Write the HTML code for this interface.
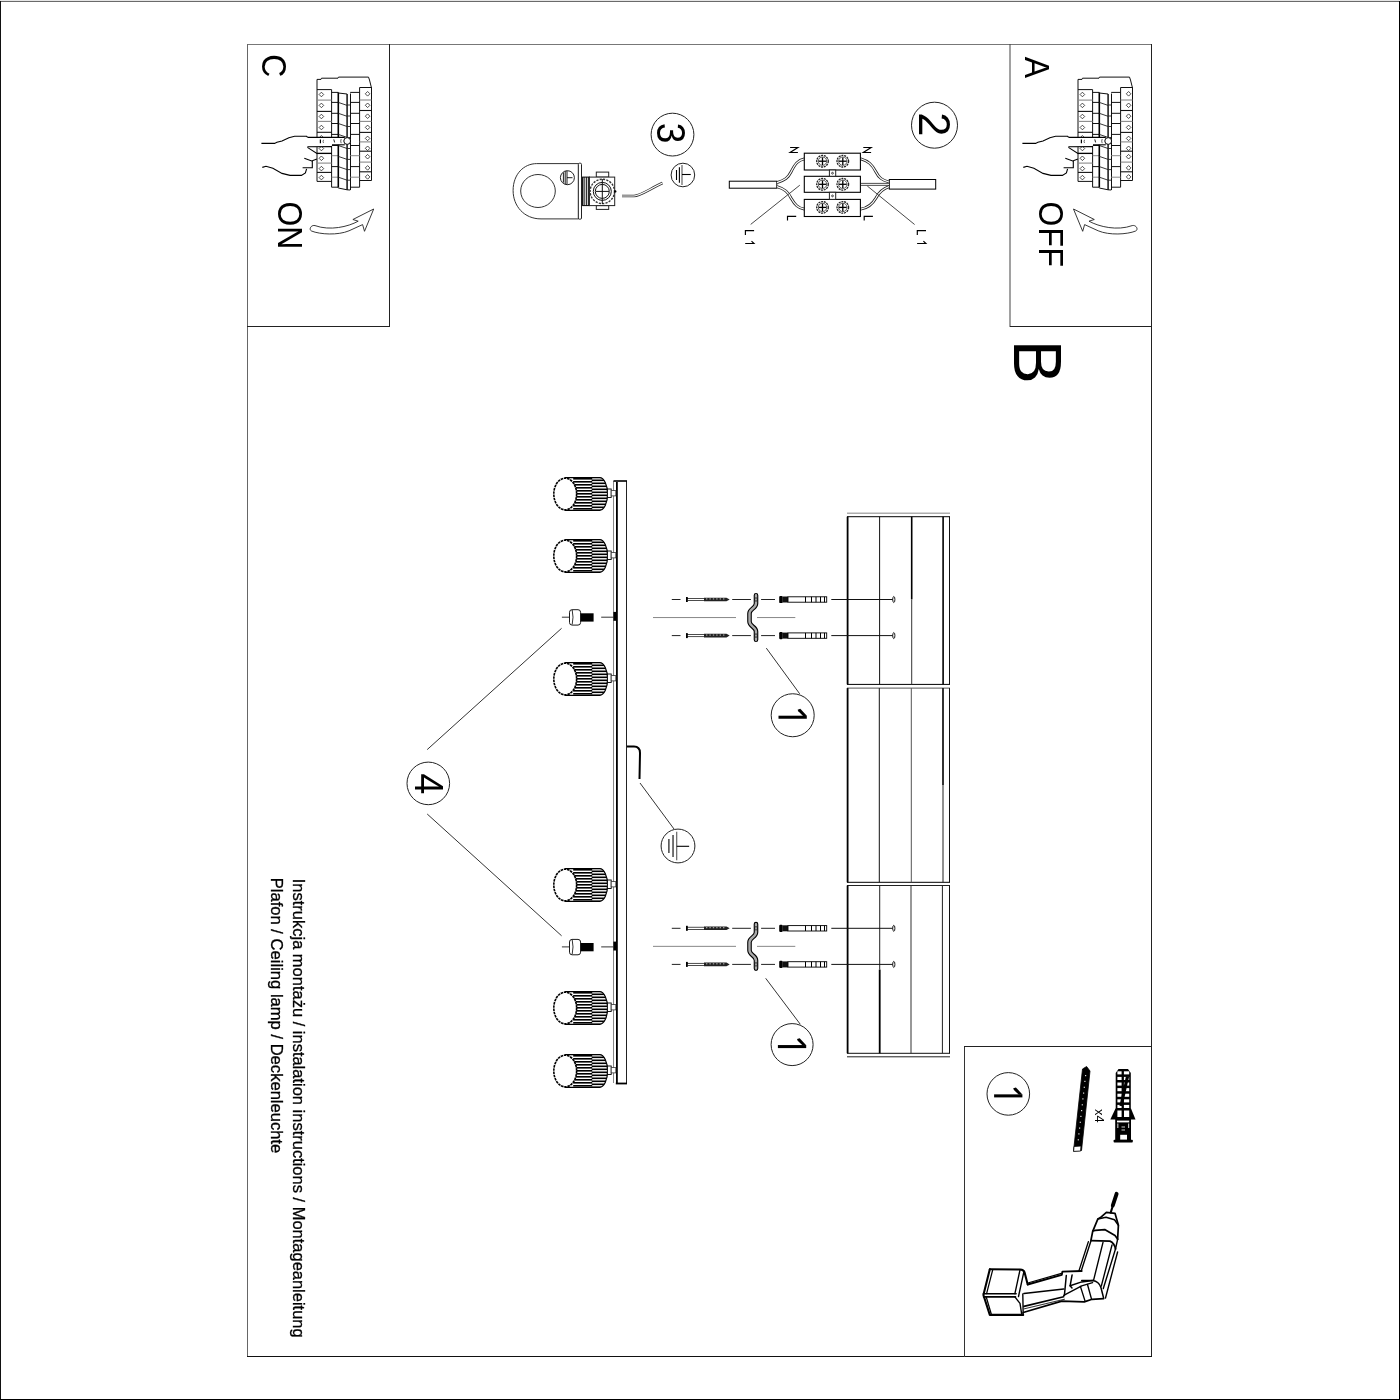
<!DOCTYPE html>
<html><head><meta charset="utf-8"><style>
html,body{margin:0;padding:0;background:#fff;overflow:hidden;}
svg{display:block;filter:grayscale(100%);}
text{font-family:"Liberation Sans",sans-serif;font-kerning:none;}
</style></head><body>
<svg width="1400" height="1400" viewBox="0 0 1400 1400">
<rect width="1400" height="1400" fill="#fff"/>
<rect x="0" y="0" width="1400" height="1" fill="#e6e6e6"/>
<rect x="0" y="1" width="1400" height="1" fill="#6a6a6a"/>
<rect x="0" y="1" width="1" height="1399" fill="#111"/>
<rect x="1399" y="1" width="1" height="1399" fill="#000"/>
<rect x="0" y="1399" width="1400" height="1" fill="#000"/>
<rect x="247" y="44" width="905" height="1" fill="#777"/>
<rect x="247" y="44" width="1" height="1313" fill="#666"/>
<rect x="1151" y="44" width="1" height="1313" fill="#222"/>
<rect x="247" y="1356" width="905" height="1" fill="#111"/>
<rect x="389" y="44" width="1" height="283" fill="#222"/>
<rect x="247" y="326" width="143" height="1" fill="#222"/>
<rect x="1009.5" y="44" width="1" height="283" fill="#444"/>
<rect x="1010" y="326" width="142" height="1" fill="#222"/>
<rect x="964" y="1046" width="1" height="311" fill="#333"/>
<rect x="964" y="1046" width="188" height="1" fill="#222"/>
<text transform="translate(261.95,54.27) rotate(90) scale(0.92,1)" font-size="34.7" fill="#000" font-weight="normal" >C</text>
<text transform="translate(278.10,201.39) rotate(90) scale(0.92,1)" font-size="34.7" fill="#000" font-weight="normal" >ON</text>
<text transform="translate(1025.06,56.65) rotate(90) scale(0.92,1)" font-size="34.7" fill="#000" font-weight="normal" >A</text>
<text transform="translate(1038.60,201.49) rotate(90) scale(0.92,1)" font-size="34.7" fill="#000" font-weight="normal" >O</text>
<text transform="translate(1038.60,227.48) rotate(90) scale(0.92,1)" font-size="34.7" fill="#000" font-weight="normal" >F</text>
<text transform="translate(1038.60,247.48) rotate(90) scale(0.92,1)" font-size="34.7" fill="#000" font-weight="normal" >F</text>
<text transform="translate(1014.04,339.67) rotate(90) scale(0.97,1)" font-size="68.2" fill="#000" font-weight="normal" >B</text>
<text transform="translate(293.20,878.78) rotate(90) scale(1.005,1)" font-size="16.4" fill="#000" font-weight="normal" stroke="#000" stroke-width="0.3">Instrukcja montażu / instalation instructions / Montageanleitung</text>
<text transform="translate(271.20,877.74) rotate(90) scale(1.012,1)" font-size="16.4" fill="#000" font-weight="normal" stroke="#000" stroke-width="0.3">Plafon / Ceiling lamp / Deckenleuchte</text>
<circle cx="672.5" cy="134.6" r="21.4" stroke="#222" stroke-width="1" fill="none" />
<text transform="translate(657.39,122.81) rotate(90) scale(0.91,1)" font-size="40.7" fill="#000" font-weight="normal" >3</text>
<circle cx="934.5" cy="125.2" r="23.0" stroke="#222" stroke-width="1" fill="none" />
<text transform="translate(919.41,112.20) rotate(90) scale(1.0,1)" font-size="43.5" fill="#000" font-weight="normal" >2</text>
<circle cx="792.7" cy="715.25" r="21.5" stroke="#222" stroke-width="1" fill="none" />
<path d="M778.50,715.70 L806.80,715.70 L806.80,718.75 L778.50,718.75 Z" fill="#000"/>
<path d="M806.80,715.85 L800.30,708.85 L797.60,709.65 L798.30,711.35 L803.30,716.15 Z" fill="#000"/>
<circle cx="792.1" cy="1044.6" r="21.0" stroke="#222" stroke-width="1" fill="none" />
<path d="M777.90,1045.05 L806.20,1045.05 L806.20,1048.10 L777.90,1048.10 Z" fill="#000"/>
<path d="M806.20,1045.20 L799.70,1038.20 L797.00,1039.00 L797.70,1040.70 L802.70,1045.50 Z" fill="#000"/>
<circle cx="428.3" cy="783.4" r="21.3" stroke="#222" stroke-width="1" fill="none" />
<text transform="translate(414.60,773.51) rotate(90) scale(0.92,1)" font-size="40.7" fill="#000" font-weight="normal" >4</text>
<circle cx="1008.3" cy="1093.9" r="21.3" stroke="#222" stroke-width="1" fill="none" />
<path d="M994.10,1094.35 L1022.40,1094.35 L1022.40,1097.40 L994.10,1097.40 Z" fill="#000"/>
<path d="M1022.40,1094.50 L1015.90,1087.50 L1013.20,1088.30 L1013.90,1090.00 L1018.90,1094.80 Z" fill="#000"/>
<circle cx="682.9" cy="175.0" r="11.8" stroke="#222" stroke-width="1" fill="none" />
<line x1="676.5" y1="170.0" x2="676.5" y2="180.0" stroke="#000" stroke-width="1.1" />
<line x1="679.4" y1="167.25" x2="679.4" y2="182.75" stroke="#000" stroke-width="1.1" />
<line x1="682.0" y1="165.0" x2="682.0" y2="185.0" stroke="#555" stroke-width="1.1" />
<line x1="682.0" y1="174.5" x2="690.75" y2="174.5" stroke="#000" stroke-width="1.1" />
<circle cx="678.0" cy="846.0" r="16.9" stroke="#222" stroke-width="1" fill="none" />
<line x1="668.912" y1="838.9" x2="668.912" y2="853.1" stroke="#000" stroke-width="1.1" />
<line x1="673.03" y1="834.995" x2="673.03" y2="857.005" stroke="#000" stroke-width="1.1" />
<line x1="676.722" y1="831.8" x2="676.722" y2="860.2" stroke="#555" stroke-width="1.1" />
<line x1="676.722" y1="846.3" x2="689.147" y2="846.3" stroke="#000" stroke-width="1.1" />
<line x1="427.2" y1="749.6" x2="561.6" y2="628.3" stroke="#333" stroke-width="1" />
<line x1="427.2" y1="814.0" x2="561.6" y2="935.8" stroke="#333" stroke-width="1" />
<line x1="766.3" y1="648.1" x2="799.7" y2="693.8" stroke="#333" stroke-width="1" />
<line x1="765.7" y1="978.3" x2="800.3" y2="1024.3" stroke="#333" stroke-width="1" />
<line x1="640.0" y1="783.0" x2="674.0" y2="829.0" stroke="#333" stroke-width="1" />
<defs>
<clipPath id="spclip"><path d="M0,-16.4 L34.4,-16.4 A8,16.4 0 0 1 34.4,16.4 L0,16.4 Z"/></clipPath>
<g id="spot"><path d="M0,-16.4 L34.4,-16.4 A8,16.4 0 0 1 34.4,16.4 L0,16.4 Z" fill="#fff" stroke="#000" stroke-width="1.2"/><g clip-path="url(#spclip)"><rect x="8" y="-19.00" width="19" height="1.6" fill="#000"/><rect x="26.5" y="-17.50" width="17" height="1.6" fill="#000"/><rect x="8" y="-16.00" width="19" height="1.6" fill="#000"/><rect x="26.5" y="-14.50" width="17" height="1.6" fill="#000"/><rect x="8" y="-13.00" width="19" height="1.6" fill="#000"/><rect x="26.5" y="-11.50" width="17" height="1.6" fill="#000"/><rect x="8" y="-10.00" width="19" height="1.6" fill="#000"/><rect x="26.5" y="-8.50" width="17" height="1.6" fill="#000"/><rect x="8" y="-7.00" width="19" height="1.6" fill="#000"/><rect x="26.5" y="-5.50" width="17" height="1.6" fill="#000"/><rect x="8" y="-4.00" width="19" height="1.6" fill="#000"/><rect x="26.5" y="-2.50" width="17" height="1.6" fill="#000"/><rect x="8" y="-1.00" width="19" height="1.6" fill="#000"/><rect x="26.5" y="0.50" width="17" height="1.6" fill="#000"/><rect x="8" y="2.00" width="19" height="1.6" fill="#000"/><rect x="26.5" y="3.50" width="17" height="1.6" fill="#000"/><rect x="8" y="5.00" width="19" height="1.6" fill="#000"/><rect x="26.5" y="6.50" width="17" height="1.6" fill="#000"/><rect x="8" y="8.00" width="19" height="1.6" fill="#000"/><rect x="26.5" y="9.50" width="17" height="1.6" fill="#000"/><rect x="8" y="11.00" width="19" height="1.6" fill="#000"/><rect x="26.5" y="12.50" width="17" height="1.6" fill="#000"/><rect x="8" y="14.00" width="19" height="1.6" fill="#000"/><rect x="26.5" y="15.50" width="17" height="1.6" fill="#000"/><rect x="8" y="17.00" width="19" height="1.6" fill="#000"/><rect x="26.5" y="18.50" width="17" height="1.6" fill="#000"/></g><ellipse cx="0" cy="0" rx="11.4" ry="15.8" fill="#fff" stroke="#000" stroke-width="1.6" stroke-dasharray="2.6 0.7"/><rect x="42.2" y="-5" width="3.8" height="8.5" fill="#fff" stroke="#000" stroke-width="0.9"/><rect x="46" y="-3.4" width="4.6" height="5.3" fill="#fff" stroke="#333" stroke-width="0.8"/></g>
<g id="bscrew"><line x1="-51.5" y1="0" x2="-44" y2="0" stroke="#333" stroke-width="1"/><line x1="-12.2" y1="0" x2="0" y2="0" stroke="#333" stroke-width="1"/><rect x="-43.9" y="-7.5" width="11.1" height="15.4" rx="2.6" fill="#fff" stroke="#000" stroke-width="0.9"/><path d="M-41.2,-7.3 Q-39.6,0 -41.2,7.3" fill="none" stroke="#000" stroke-width="0.8"/><rect x="-32.8" y="-3.9" width="13" height="8.3" fill="#000"/><rect x="0" y="-5.3" width="3.6" height="8.9" fill="#000"/></g>
</defs>
<rect x="613" y="481" width="1" height="602" fill="#888"/>
<rect x="616" y="482" width="1.8" height="601" fill="#000"/>
<rect x="626" y="481" width="1" height="603" fill="#222"/>
<rect x="613.5" y="480.2" width="13.5" height="1.6" fill="#000"/>
<rect x="615.8" y="1082.6" width="11.2" height="1.8" fill="#000"/>
<use href="#spot" x="565.2" y="494"/>
<use href="#spot" x="565.2" y="556"/>
<use href="#spot" x="565.2" y="679"/>
<use href="#spot" x="565.2" y="885"/>
<use href="#spot" x="565.2" y="1008"/>
<use href="#spot" x="565.2" y="1071"/>
<use href="#bscrew" x="613.4" y="617.2"/>
<use href="#bscrew" x="613.4" y="946.9"/>
<path d="M627,746.5 L634,746.5 Q640,746.5 640,753 L639.5,779" stroke="#000" stroke-width="2" fill="none" />
<rect x="847" y="512.6" width="103" height="1.2" fill="#999"/>
<rect x="847.0" y="516.2" width="103.0" height="1" fill="#000"/>
<rect x="847.0" y="683.9" width="103.0" height="1" fill="#000"/>
<rect x="846.7" y="516.7" width="1.8" height="167.69999999999993" fill="#000"/>
<rect x="949.0" y="516.7" width="1" height="167.69999999999993" fill="#111"/>
<rect x="847.0" y="687.6" width="103.0" height="1" fill="#555"/>
<rect x="847.0" y="881.8" width="103.0" height="1" fill="#000"/>
<rect x="846.7" y="688.1" width="1.8" height="194.19999999999993" fill="#000"/>
<rect x="949.0" y="688.1" width="1" height="194.19999999999993" fill="#111"/>
<rect x="847.0" y="885.0" width="103.0" height="1" fill="#222"/>
<rect x="847.0" y="1052.8" width="103.0" height="1" fill="#111"/>
<rect x="846.7" y="885.5" width="1.8" height="167.79999999999995" fill="#000"/>
<rect x="949.0" y="885.5" width="1" height="167.79999999999995" fill="#111"/>
<rect x="847" y="1056.3" width="103" height="1" fill="#222"/>
<rect x="879.10" y="516.7" width="1" height="167.70" fill="#111"/>
<rect x="910.90" y="516.7" width="1.6" height="82.60" fill="#000"/>
<rect x="911.20" y="599.3" width="1" height="85.10" fill="#333"/>
<rect x="942.30" y="516.7" width="1.6" height="167.70" fill="#000"/>
<rect x="878.80" y="688.1" width="1" height="194.20" fill="#111"/>
<rect x="910.80" y="688.1" width="1" height="194.20" fill="#555"/>
<rect x="942.20" y="688.1" width="1.6" height="96.90" fill="#000"/>
<rect x="942.50" y="785" width="1" height="97.30" fill="#222"/>
<rect x="879.20" y="885.5" width="1" height="84.10" fill="#222"/>
<rect x="878.80" y="969.6" width="1.8" height="83.70" fill="#000"/>
<rect x="910.50" y="885.5" width="1" height="167.80" fill="#333"/>
<rect x="941.90" y="885.5" width="1" height="167.80" fill="#222"/>
<line x1="671.8" y1="599.5" x2="680.5" y2="599.5" stroke="#222" stroke-width="1" />
<rect x="686" y="597.0" width="1.8" height="5" fill="#000"/>
<rect x="687.5" y="598.4" width="17" height="2.2" fill="#fff" stroke="#000" stroke-width="0.7"/>
<path d="M704,597.7 L726.5,597.7 L729.7,599.5 L726.5,601.3 L704,601.3 Z" fill="#222"/>
<rect x="706.0" y="598.5" width="1.4" height="0.9" fill="#ccc"/>
<rect x="709.4" y="598.5" width="1.4" height="0.9" fill="#ccc"/>
<rect x="712.8" y="598.5" width="1.4" height="0.9" fill="#ccc"/>
<rect x="716.2" y="598.5" width="1.4" height="0.9" fill="#ccc"/>
<rect x="719.6" y="598.5" width="1.4" height="0.9" fill="#ccc"/>
<rect x="723.0" y="598.5" width="1.4" height="0.9" fill="#ccc"/>
<line x1="732.2" y1="599.5" x2="750.9" y2="599.5" stroke="#222" stroke-width="1" />
<line x1="761.1" y1="599.5" x2="775.0" y2="599.5" stroke="#222" stroke-width="1" />
<rect x="779.2" y="595.9" width="3.5" height="7.2" rx="1.2" fill="#000"/>
<rect x="782.5" y="596.5" width="5.5" height="6.0" fill="#111"/>
<rect x="788" y="596.8" width="38.7" height="5.4" fill="#fff" stroke="#000" stroke-width="0.9"/>
<rect x="805" y="596.8" width="1" height="5.4" fill="#000"/>
<rect x="811" y="596.8" width="1" height="5.4" fill="#000"/>
<rect x="815.5" y="596.8" width="1" height="5.4" fill="#000"/>
<rect x="820" y="596.8" width="1" height="5.4" fill="#000"/>
<rect x="824" y="596.8" width="1" height="5.4" fill="#000"/>
<line x1="831.3" y1="599.5" x2="893.6" y2="599.5" stroke="#111" stroke-width="1" />
<ellipse cx="893.8" cy="599.5" rx="1.1" ry="3" fill="#fff" stroke="#000" stroke-width="0.9"/>
<line x1="671.8" y1="635.6" x2="680.5" y2="635.6" stroke="#222" stroke-width="1" />
<rect x="686" y="633.1" width="1.8" height="5" fill="#000"/>
<rect x="687.5" y="634.5" width="17" height="2.2" fill="#fff" stroke="#000" stroke-width="0.7"/>
<path d="M704,633.8000000000001 L726.5,633.8000000000001 L729.7,635.6 L726.5,637.4 L704,637.4 Z" fill="#222"/>
<rect x="706.0" y="634.6" width="1.4" height="0.9" fill="#ccc"/>
<rect x="709.4" y="634.6" width="1.4" height="0.9" fill="#ccc"/>
<rect x="712.8" y="634.6" width="1.4" height="0.9" fill="#ccc"/>
<rect x="716.2" y="634.6" width="1.4" height="0.9" fill="#ccc"/>
<rect x="719.6" y="634.6" width="1.4" height="0.9" fill="#ccc"/>
<rect x="723.0" y="634.6" width="1.4" height="0.9" fill="#ccc"/>
<line x1="732.2" y1="635.6" x2="750.9" y2="635.6" stroke="#222" stroke-width="1" />
<line x1="761.1" y1="635.6" x2="775.0" y2="635.6" stroke="#222" stroke-width="1" />
<rect x="779.2" y="632.0" width="3.5" height="7.2" rx="1.2" fill="#000"/>
<rect x="782.5" y="632.6" width="5.5" height="6.0" fill="#111"/>
<rect x="788" y="632.9" width="38.7" height="5.4" fill="#fff" stroke="#000" stroke-width="0.9"/>
<rect x="805" y="632.9" width="1" height="5.4" fill="#000"/>
<rect x="811" y="632.9" width="1" height="5.4" fill="#000"/>
<rect x="815.5" y="632.9" width="1" height="5.4" fill="#000"/>
<rect x="820" y="632.9" width="1" height="5.4" fill="#000"/>
<rect x="824" y="632.9" width="1" height="5.4" fill="#000"/>
<line x1="831.3" y1="635.6" x2="893.6" y2="635.6" stroke="#111" stroke-width="1" />
<ellipse cx="893.8" cy="635.6" rx="1.1" ry="3" fill="#fff" stroke="#000" stroke-width="0.9"/>
<path d="M756,595.3 L756,603.5 C756,608.5 749.5,608.5 749.5,613.55 L749.5,621.55 C749.5,626.6 756,626.6 756,631.6 L756,639.8000000000001" stroke="#000" stroke-width="4.6" fill="none" stroke-linecap="round"/>
<path d="M756,595.3 L756,603.5 C756,608.5 749.5,608.5 749.5,613.55 L749.5,621.55 C749.5,626.6 756,626.6 756,631.6 L756,639.8000000000001" stroke="#aaa" stroke-width="2.4" fill="none" stroke-linecap="round"/>
<ellipse cx="756" cy="599.5" rx="0.9" ry="2.2" fill="#fff" stroke="#000" stroke-width="0.7"/>
<ellipse cx="756" cy="635.6" rx="0.9" ry="2.2" fill="#fff" stroke="#000" stroke-width="0.7"/>
<rect x="653" y="617.05" width="83" height="1" fill="#888"/>
<rect x="757" y="617.05" width="38.3" height="1" fill="#888"/>
<line x1="671.8" y1="928.3" x2="680.5" y2="928.3" stroke="#222" stroke-width="1" />
<rect x="686" y="925.8" width="1.8" height="5" fill="#000"/>
<rect x="687.5" y="927.1999999999999" width="17" height="2.2" fill="#fff" stroke="#000" stroke-width="0.7"/>
<path d="M704,926.5 L726.5,926.5 L729.7,928.3 L726.5,930.0999999999999 L704,930.0999999999999 Z" fill="#222"/>
<rect x="706.0" y="927.3" width="1.4" height="0.9" fill="#ccc"/>
<rect x="709.4" y="927.3" width="1.4" height="0.9" fill="#ccc"/>
<rect x="712.8" y="927.3" width="1.4" height="0.9" fill="#ccc"/>
<rect x="716.2" y="927.3" width="1.4" height="0.9" fill="#ccc"/>
<rect x="719.6" y="927.3" width="1.4" height="0.9" fill="#ccc"/>
<rect x="723.0" y="927.3" width="1.4" height="0.9" fill="#ccc"/>
<line x1="732.2" y1="928.3" x2="750.9" y2="928.3" stroke="#222" stroke-width="1" />
<line x1="761.1" y1="928.3" x2="775.0" y2="928.3" stroke="#222" stroke-width="1" />
<rect x="779.2" y="924.6999999999999" width="3.5" height="7.2" rx="1.2" fill="#000"/>
<rect x="782.5" y="925.3" width="5.5" height="6.0" fill="#111"/>
<rect x="788" y="925.5999999999999" width="38.7" height="5.4" fill="#fff" stroke="#000" stroke-width="0.9"/>
<rect x="805" y="925.5999999999999" width="1" height="5.4" fill="#000"/>
<rect x="811" y="925.5999999999999" width="1" height="5.4" fill="#000"/>
<rect x="815.5" y="925.5999999999999" width="1" height="5.4" fill="#000"/>
<rect x="820" y="925.5999999999999" width="1" height="5.4" fill="#000"/>
<rect x="824" y="925.5999999999999" width="1" height="5.4" fill="#000"/>
<line x1="831.3" y1="928.3" x2="893.6" y2="928.3" stroke="#111" stroke-width="1" />
<ellipse cx="893.8" cy="928.3" rx="1.1" ry="3" fill="#fff" stroke="#000" stroke-width="0.9"/>
<line x1="671.8" y1="964.4" x2="680.5" y2="964.4" stroke="#222" stroke-width="1" />
<rect x="686" y="961.9" width="1.8" height="5" fill="#000"/>
<rect x="687.5" y="963.3" width="17" height="2.2" fill="#fff" stroke="#000" stroke-width="0.7"/>
<path d="M704,962.6 L726.5,962.6 L729.7,964.4 L726.5,966.1999999999999 L704,966.1999999999999 Z" fill="#222"/>
<rect x="706.0" y="963.4" width="1.4" height="0.9" fill="#ccc"/>
<rect x="709.4" y="963.4" width="1.4" height="0.9" fill="#ccc"/>
<rect x="712.8" y="963.4" width="1.4" height="0.9" fill="#ccc"/>
<rect x="716.2" y="963.4" width="1.4" height="0.9" fill="#ccc"/>
<rect x="719.6" y="963.4" width="1.4" height="0.9" fill="#ccc"/>
<rect x="723.0" y="963.4" width="1.4" height="0.9" fill="#ccc"/>
<line x1="732.2" y1="964.4" x2="750.9" y2="964.4" stroke="#222" stroke-width="1" />
<line x1="761.1" y1="964.4" x2="775.0" y2="964.4" stroke="#222" stroke-width="1" />
<rect x="779.2" y="960.8" width="3.5" height="7.2" rx="1.2" fill="#000"/>
<rect x="782.5" y="961.4" width="5.5" height="6.0" fill="#111"/>
<rect x="788" y="961.6999999999999" width="38.7" height="5.4" fill="#fff" stroke="#000" stroke-width="0.9"/>
<rect x="805" y="961.6999999999999" width="1" height="5.4" fill="#000"/>
<rect x="811" y="961.6999999999999" width="1" height="5.4" fill="#000"/>
<rect x="815.5" y="961.6999999999999" width="1" height="5.4" fill="#000"/>
<rect x="820" y="961.6999999999999" width="1" height="5.4" fill="#000"/>
<rect x="824" y="961.6999999999999" width="1" height="5.4" fill="#000"/>
<line x1="831.3" y1="964.4" x2="893.6" y2="964.4" stroke="#111" stroke-width="1" />
<ellipse cx="893.8" cy="964.4" rx="1.1" ry="3" fill="#fff" stroke="#000" stroke-width="0.9"/>
<path d="M756,924.0999999999999 L756,932.3 C756,937.3 749.5,937.3 749.5,942.3499999999999 L749.5,950.3499999999999 C749.5,955.4 756,955.4 756,960.4 L756,968.6" stroke="#000" stroke-width="4.6" fill="none" stroke-linecap="round"/>
<path d="M756,924.0999999999999 L756,932.3 C756,937.3 749.5,937.3 749.5,942.3499999999999 L749.5,950.3499999999999 C749.5,955.4 756,955.4 756,960.4 L756,968.6" stroke="#aaa" stroke-width="2.4" fill="none" stroke-linecap="round"/>
<ellipse cx="756" cy="928.3" rx="0.9" ry="2.2" fill="#fff" stroke="#000" stroke-width="0.7"/>
<ellipse cx="756" cy="964.4" rx="0.9" ry="2.2" fill="#fff" stroke="#000" stroke-width="0.7"/>
<rect x="653" y="945.8499999999999" width="83" height="1" fill="#888"/>
<rect x="757" y="945.8499999999999" width="38.3" height="1" fill="#888"/>
<g id="panel"><path d="M317,181.4 L317,79.4 L321,79.4 L321.5,78.2 L338,78.2 L338.5,77.1 L368.5,77.1 L369.5,80 L371,86 L371.5,88" stroke="#111" stroke-width="1" fill="#fff"/><path d="M317,89.6 L331.6,89.6 L331.6,181.4 L317,181.4" stroke="#111" stroke-width="1" fill="none"/><line x1="317" y1="100.1" x2="331.6" y2="100.1" stroke="#888" stroke-width="1.1"/><line x1="317" y1="111.4" x2="331.6" y2="111.4" stroke="#111" stroke-width="1.1"/><line x1="317" y1="121.4" x2="331.6" y2="121.4" stroke="#888" stroke-width="1.1"/><line x1="317" y1="132.3" x2="331.6" y2="132.3" stroke="#111" stroke-width="1.1"/><line x1="317" y1="142.5" x2="331.6" y2="142.5" stroke="#888" stroke-width="1.1"/><line x1="317" y1="153.5" x2="331.6" y2="153.5" stroke="#111" stroke-width="1.1"/><line x1="317" y1="163.1" x2="331.6" y2="163.1" stroke="#888" stroke-width="1.1"/><line x1="317" y1="172.4" x2="331.6" y2="172.4" stroke="#111" stroke-width="1.1"/><path d="M319.09999999999997,94.5 L321.4,92.2 L323.7,94.5 L321.4,96.8 Z" stroke="#222" stroke-width="0.8" fill="none"/><path d="M319.09999999999997,105.4 L321.4,103.10000000000001 L323.7,105.4 L321.4,107.7 Z" stroke="#222" stroke-width="0.8" fill="none"/><path d="M319.09999999999997,116.5 L321.4,114.2 L323.7,116.5 L321.4,118.8 Z" stroke="#222" stroke-width="0.8" fill="none"/><path d="M319.09999999999997,127.5 L321.4,125.2 L323.7,127.5 L321.4,129.8 Z" stroke="#222" stroke-width="0.8" fill="none"/><path d="M319.09999999999997,137.8 L321.4,135.5 L323.7,137.8 L321.4,140.10000000000002 Z" stroke="#222" stroke-width="0.8" fill="none"/><path d="M319.09999999999997,148.5 L321.4,146.2 L323.7,148.5 L321.4,150.8 Z" stroke="#222" stroke-width="0.8" fill="none"/><path d="M319.09999999999997,158.3 L321.4,156.0 L323.7,158.3 L321.4,160.60000000000002 Z" stroke="#222" stroke-width="0.8" fill="none"/><path d="M319.09999999999997,168.6 L321.4,166.29999999999998 L323.7,168.6 L321.4,170.9 Z" stroke="#222" stroke-width="0.8" fill="none"/><path d="M319.09999999999997,177.6 L321.4,175.29999999999998 L323.7,177.6 L321.4,179.9 Z" stroke="#222" stroke-width="0.8" fill="none"/><path d="M331.6,92.4 L338.3,92.4 M331.6,187.2 L338.3,187.2 M331.6,181 L331.6,187.2" stroke="#111" stroke-width="1" fill="none"/><line x1="331.6" y1="102.4" x2="338.3" y2="102.4" stroke="#111" stroke-width="1"/><line x1="331.6" y1="113.3" x2="338.3" y2="113.3" stroke="#111" stroke-width="1"/><line x1="331.6" y1="123.5" x2="338.3" y2="123.5" stroke="#111" stroke-width="1"/><line x1="331.6" y1="134.4" x2="338.3" y2="134.4" stroke="#111" stroke-width="1"/><line x1="331.6" y1="145.5" x2="338.3" y2="145.5" stroke="#111" stroke-width="1"/><line x1="331.6" y1="155.7" x2="338.3" y2="155.7" stroke="#888" stroke-width="1"/><line x1="331.6" y1="166.6" x2="338.3" y2="166.6" stroke="#111" stroke-width="1"/><line x1="331.6" y1="177.2" x2="338.3" y2="177.2" stroke="#888" stroke-width="1"/><line x1="338.3" y1="92.4" x2="338.3" y2="187.5" stroke="#000" stroke-width="1.6"/><path d="M338.3,93 L347.1,94 L347.1,189.8 L338.3,188" stroke="#111" stroke-width="1" fill="none"/><line x1="338.3" y1="102.4" x2="347.1" y2="105.4" stroke="#222" stroke-width="0.9"/><line x1="338.3" y1="113.3" x2="347.1" y2="116.3" stroke="#222" stroke-width="0.9"/><line x1="338.3" y1="123.5" x2="347.1" y2="126.5" stroke="#222" stroke-width="0.9"/><line x1="338.3" y1="134.4" x2="347.1" y2="137.4" stroke="#222" stroke-width="0.9"/><line x1="338.3" y1="145.5" x2="347.1" y2="148.5" stroke="#222" stroke-width="0.9"/><line x1="338.3" y1="156.4" x2="347.1" y2="159.4" stroke="#222" stroke-width="0.9"/><line x1="338.3" y1="166.6" x2="347.1" y2="169.6" stroke="#222" stroke-width="0.9"/><line x1="338.3" y1="177.2" x2="347.1" y2="180.2" stroke="#222" stroke-width="0.9"/><line x1="350.5" y1="93.5" x2="350.5" y2="190" stroke="#111" stroke-width="1"/><line x1="347.1" y1="94" x2="347.1" y2="190" stroke="#111" stroke-width="1"/><line x1="347.1" y1="105" x2="350.2" y2="105" stroke="#222" stroke-width="0.9"/><line x1="347.1" y1="116" x2="350.2" y2="116" stroke="#222" stroke-width="0.9"/><line x1="347.1" y1="126.5" x2="350.2" y2="126.5" stroke="#222" stroke-width="0.9"/><line x1="347.1" y1="137.5" x2="350.2" y2="137.5" stroke="#222" stroke-width="0.9"/><line x1="347.1" y1="148.5" x2="350.2" y2="148.5" stroke="#222" stroke-width="0.9"/><line x1="347.1" y1="159.4" x2="350.2" y2="159.4" stroke="#222" stroke-width="0.9"/><line x1="347.1" y1="169.6" x2="350.2" y2="169.6" stroke="#222" stroke-width="0.9"/><line x1="347.1" y1="180.2" x2="350.2" y2="180.2" stroke="#222" stroke-width="0.9"/><path d="M347.1,189.8 L350.2,190" stroke="#111" stroke-width="1" fill="none"/><path d="M350.2,92.4 L359.6,92.4 M350.2,187.2 L359.6,187.2" stroke="#111" stroke-width="1" fill="none"/><line x1="359.6" y1="87.5" x2="359.6" y2="187.2" stroke="#111" stroke-width="1"/><line x1="350.2" y1="102.4" x2="359.6" y2="102.4" stroke="#111" stroke-width="1"/><line x1="350.2" y1="113.3" x2="359.6" y2="113.3" stroke="#111" stroke-width="1"/><line x1="350.2" y1="123.5" x2="359.6" y2="123.5" stroke="#111" stroke-width="1"/><line x1="350.2" y1="134.4" x2="359.6" y2="134.4" stroke="#111" stroke-width="1"/><line x1="350.2" y1="145.5" x2="359.6" y2="145.5" stroke="#111" stroke-width="1"/><line x1="350.2" y1="155.7" x2="359.6" y2="155.7" stroke="#888" stroke-width="1"/><line x1="350.2" y1="166.6" x2="359.6" y2="166.6" stroke="#111" stroke-width="1"/><line x1="350.2" y1="177.2" x2="359.6" y2="177.2" stroke="#888" stroke-width="1"/><path d="M359.6,87.5 L371.5,87.5 L371.5,180.5 L359.6,180.5" stroke="#111" stroke-width="1" fill="none"/><line x1="359.6" y1="100" x2="371.5" y2="100" stroke="#888" stroke-width="1.1"/><line x1="359.6" y1="110.5" x2="371.5" y2="110.5" stroke="#111" stroke-width="1.1"/><line x1="359.6" y1="121.4" x2="371.5" y2="121.4" stroke="#888" stroke-width="1.1"/><line x1="359.6" y1="132.4" x2="371.5" y2="132.4" stroke="#111" stroke-width="1.1"/><line x1="359.6" y1="141.9" x2="371.5" y2="141.9" stroke="#888" stroke-width="1.1"/><line x1="359.6" y1="151.2" x2="371.5" y2="151.2" stroke="#111" stroke-width="1.1"/><line x1="359.6" y1="162.1" x2="371.5" y2="162.1" stroke="#888" stroke-width="1.1"/><line x1="359.6" y1="171.8" x2="371.5" y2="171.8" stroke="#111" stroke-width="1.1"/><path d="M365.3,93.8 L367.6,91.5 L369.90000000000003,93.8 L367.6,96.1 Z" stroke="#222" stroke-width="0.8" fill="none"/><path d="M365.3,105.3 L367.6,103.0 L369.90000000000003,105.3 L367.6,107.6 Z" stroke="#222" stroke-width="0.8" fill="none"/><path d="M365.3,116.2 L367.6,113.9 L369.90000000000003,116.2 L367.6,118.5 Z" stroke="#222" stroke-width="0.8" fill="none"/><path d="M365.3,127.4 L367.6,125.10000000000001 L369.90000000000003,127.4 L367.6,129.70000000000002 Z" stroke="#222" stroke-width="0.8" fill="none"/><path d="M365.3,138.4 L367.6,136.1 L369.90000000000003,138.4 L367.6,140.70000000000002 Z" stroke="#222" stroke-width="0.8" fill="none"/><path d="M365.3,148.3 L367.6,146.0 L369.90000000000003,148.3 L367.6,150.60000000000002 Z" stroke="#222" stroke-width="0.8" fill="none"/><path d="M365.3,156.7 L367.6,154.39999999999998 L369.90000000000003,156.7 L367.6,159.0 Z" stroke="#222" stroke-width="0.8" fill="none"/><path d="M365.3,167.9 L367.6,165.6 L369.90000000000003,167.9 L367.6,170.20000000000002 Z" stroke="#222" stroke-width="0.8" fill="none"/><path d="M365.3,176.9 L367.6,174.6 L369.90000000000003,176.9 L367.6,179.20000000000002 Z" stroke="#222" stroke-width="0.8" fill="none"/><path d="M306.6,136.4 L307.7,137.4 L344.5,137.4 L344.5,144.8 L332,144.8 L331.7,146.6 L307.4,147.4 Z" stroke="#fff" stroke-width="0.01" fill="#fff"/><line x1="307.7" y1="137.4" x2="344.8" y2="137.4" stroke="#000" stroke-width="1.1"/><line x1="332" y1="144.8" x2="344.8" y2="144.8" stroke="#000" stroke-width="1.1"/><line x1="307.4" y1="146.8" x2="332" y2="146.6" stroke="#000" stroke-width="1.1"/><circle cx="347.2" cy="141" r="3.4" fill="#fff" stroke="#000" stroke-width="1"/><line x1="320.4" y1="139.6" x2="320.4" y2="143.2" stroke="#000" stroke-width="1.2"/><path d="M323.5,139.8 Q322.6,141.4 323.5,143" stroke="#555" stroke-width="0.9" fill="none"/><line x1="333.8" y1="139.4" x2="334.6" y2="142.4" stroke="#000" stroke-width="0.9"/><path d="M341.2,139 Q340.2,141 341.2,143.2" stroke="#555" stroke-width="0.9" fill="none"/><path d="M261.4,143.4 L274.6,143.4 L276.9,142.3 L282,141.1 L288.9,137.7 L294.6,136.3 L306.6,136.3 L307.7,137.4" stroke="#000" stroke-width="1.1" fill="none"/><path d="M307.4,147.4 L316.9,153.4 L331.6,153.4" stroke="#000" stroke-width="1.1" fill="none"/><path d="M304.3,158.3 L311.7,160.9 L316.9,159.1" stroke="#000" stroke-width="1.1" fill="none"/><path d="M312.3,160.9 L312.3,167.7 L302.6,167.7" stroke="#000" stroke-width="1.1" fill="none"/><path d="M262.3,167.4 L266,166.3 L272.9,168.3 L282,173.4 L290,175.4 L301.4,175.4 L305.4,172.9 L306.6,168.9" stroke="#000" stroke-width="1.1" fill="none"/></g>
<use href="#panel" x="761" y="0"/>
<g id="arr"><path d="M311.5,231 C320,234.5 338,235.5 349,230.8 L362.6,224.6 L364.5,231.3 L373.7,209 L352.9,219.5 L358.2,221.2 C348,226.8 330,231 315,225.6 C311,224.6 308.5,229.5 311.5,231 Z" fill="#fff" stroke="#222" stroke-width="0.9"/></g>
<use href="#arr" transform="translate(1447.2,0) scale(-1,1)"/>
<path d="M536.7,163.6 L578.5,163.6 L578.5,218.9 L541,218.9 C524,218.9 513.1,206 513.1,190.5 C513.1,174 524,163.6 536.7,163.6 Z" stroke="#333" stroke-width="1" fill="#fff" />
<rect x="578.3" y="163.2" width="3.2" height="56" rx="1.2" fill="#fff" stroke="#222" stroke-width="1"/>
<ellipse cx="538" cy="191" rx="17.3" ry="16.5" fill="#fff" stroke="#333" stroke-width="1"/>
<circle cx="567.4" cy="177.7" r="7.0" stroke="#222" stroke-width="1" fill="none" />
<line x1="563.4" y1="172.6" x2="563.4" y2="182.6" stroke="#000" stroke-width="0.9" />
<line x1="565.2" y1="171.2" x2="565.2" y2="184.2" stroke="#000" stroke-width="0.9" />
<line x1="567.0" y1="170.8" x2="567.0" y2="184.6" stroke="#000" stroke-width="0.9" />
<line x1="567.0" y1="177.7" x2="572.5" y2="177.7" stroke="#000" stroke-width="0.9" />
<rect x="582.6" y="177.1" width="6.8" height="28.5" fill="#fff" stroke="#000" stroke-width="1"/>
<rect x="583.6" y="177.1" width="1" height="28.5" fill="#000"/>
<rect x="585.8" y="177.1" width="1" height="28.5" fill="#000"/>
<rect x="587.8" y="177.1" width="1" height="28.5" fill="#000"/>
<rect x="596.3" y="172.1" width="12.4" height="5" fill="#fff" stroke="#222" stroke-width="1"/>
<rect x="596.3" y="205.6" width="12.4" height="3.8" fill="#fff" stroke="#222" stroke-width="1"/>
<rect x="589.4" y="177.1" width="25.3" height="28.5" fill="#fff" stroke="#222" stroke-width="1"/>
<circle cx="602.3" cy="191.4" r="12.2" stroke="#333" stroke-width="1.4" fill="none" stroke-dasharray="2.2 1.2"/>
<circle cx="602.3" cy="191.4" r="9.0" stroke="#111" stroke-width="1" fill="none" />
<circle cx="602.3" cy="191.4" r="7.0" stroke="#111" stroke-width="1" fill="none" />
<line x1="602.3" y1="179" x2="602.3" y2="204" stroke="#111" stroke-width="1" />
<line x1="596" y1="191.4" x2="609" y2="191.4" stroke="#111" stroke-width="1" />
<circle cx="615.2" cy="191.4" r="1.2" fill="#000"/>
<path d="M622,196 L634,196 C640,196 648,190 662.5,183" stroke="#333" stroke-width="2.6" fill="none" />
<path d="M622,196 L634,196 C640,196 648,190 662.5,183" stroke="#fff" stroke-width="1.2" fill="none" />
<rect x="729.3" y="181.2" width="47.5" height="7" fill="#fff" stroke="#000" stroke-width="1"/>
<rect x="889.3" y="179.5" width="46.4" height="9.6" fill="#fff" stroke="#000" stroke-width="1"/>
<path d="M777,182.6 C785,180 788,178 791,172 C795,164 798,160 804.3,158.8" stroke="#222" stroke-width="2.8" fill="none" />
<path d="M777,182.6 C785,180 788,178 791,172 C795,164 798,160 804.3,158.8" stroke="#fff" stroke-width="1.2" fill="none" />
<path d="M777,186.6 C785,189 788,192 791,198 C795,205 798,208 804.3,209.2" stroke="#222" stroke-width="2.8" fill="none" />
<path d="M777,186.6 C785,189 788,192 791,198 C795,205 798,208 804.3,209.2" stroke="#fff" stroke-width="1.2" fill="none" />
<path d="M889,182 C882,180 879,178 876,172 C872,164 868,161 860.7,158.8" stroke="#222" stroke-width="2.8" fill="none" />
<path d="M889,182 C882,180 879,178 876,172 C872,164 868,161 860.7,158.8" stroke="#fff" stroke-width="1.2" fill="none" />
<path d="M889,186.6 C882,189 879,192 876,198 C872,205 868,208 860.7,209.2" stroke="#222" stroke-width="2.8" fill="none" />
<path d="M889,186.6 C882,189 879,192 876,198 C872,205 868,208 860.7,209.2" stroke="#fff" stroke-width="1.2" fill="none" />
<path d="M889,184.3 L860.7,184.3" stroke="#222" stroke-width="2.8" fill="none" />
<path d="M889,184.3 L860.7,184.3" stroke="#fff" stroke-width="1.2" fill="none" />
<rect x="804.3" y="153.2" width="56.1" height="16.8" fill="#fff" stroke="#000" stroke-width="1.1"/>
<rect x="804.3" y="176.3" width="56.1" height="16.0" fill="#fff" stroke="#000" stroke-width="1.1"/>
<rect x="804.3" y="199.4" width="56.1" height="17.1" fill="#fff" stroke="#000" stroke-width="1.1"/>
<rect x="829.4" y="170.0" width="6.3" height="6.3" fill="#fff" stroke="#222" stroke-width="1"/>
<circle cx="832.5" cy="173.2" r="0.9" fill="none" stroke="#000" stroke-width="0.7"/>
<rect x="829.4" y="192.3" width="6.3" height="7.1" fill="#fff" stroke="#222" stroke-width="1"/>
<circle cx="832.5" cy="195.9" r="0.9" fill="none" stroke="#000" stroke-width="0.7"/>
<circle cx="822.5" cy="161.2" r="5.8" stroke="#222" stroke-width="1.3" fill="#fff" stroke-dasharray="2 0.8"/>
<circle cx="822.5" cy="161.2" r="4.2" stroke="#333" stroke-width="0.8" fill="none" />
<line x1="818.7" y1="161.2" x2="826.3" y2="161.2" stroke="#000" stroke-width="1.3" />
<line x1="822.5" y1="157.39999999999998" x2="822.5" y2="165.0" stroke="#000" stroke-width="1.3" />
<circle cx="842.8" cy="161.2" r="5.8" stroke="#222" stroke-width="1.3" fill="#fff" stroke-dasharray="2 0.8"/>
<circle cx="842.8" cy="161.2" r="4.2" stroke="#333" stroke-width="0.8" fill="none" />
<line x1="839.0" y1="161.2" x2="846.5999999999999" y2="161.2" stroke="#000" stroke-width="1.3" />
<line x1="842.8" y1="157.39999999999998" x2="842.8" y2="165.0" stroke="#000" stroke-width="1.3" />
<circle cx="822.5" cy="184.3" r="5.8" stroke="#222" stroke-width="1.3" fill="#fff" stroke-dasharray="2 0.8"/>
<circle cx="822.5" cy="184.3" r="4.2" stroke="#333" stroke-width="0.8" fill="none" />
<line x1="818.7" y1="184.3" x2="826.3" y2="184.3" stroke="#000" stroke-width="1.3" />
<line x1="822.5" y1="180.5" x2="822.5" y2="188.10000000000002" stroke="#000" stroke-width="1.3" />
<circle cx="842.8" cy="184.3" r="5.8" stroke="#222" stroke-width="1.3" fill="#fff" stroke-dasharray="2 0.8"/>
<circle cx="842.8" cy="184.3" r="4.2" stroke="#333" stroke-width="0.8" fill="none" />
<line x1="839.0" y1="184.3" x2="846.5999999999999" y2="184.3" stroke="#000" stroke-width="1.3" />
<line x1="842.8" y1="180.5" x2="842.8" y2="188.10000000000002" stroke="#000" stroke-width="1.3" />
<circle cx="822.5" cy="207.4" r="5.8" stroke="#222" stroke-width="1.3" fill="#fff" stroke-dasharray="2 0.8"/>
<circle cx="822.5" cy="207.4" r="4.2" stroke="#333" stroke-width="0.8" fill="none" />
<line x1="818.7" y1="207.4" x2="826.3" y2="207.4" stroke="#000" stroke-width="1.3" />
<line x1="822.5" y1="203.6" x2="822.5" y2="211.20000000000002" stroke="#000" stroke-width="1.3" />
<circle cx="842.8" cy="207.4" r="5.8" stroke="#222" stroke-width="1.3" fill="#fff" stroke-dasharray="2 0.8"/>
<circle cx="842.8" cy="207.4" r="4.2" stroke="#333" stroke-width="0.8" fill="none" />
<line x1="839.0" y1="207.4" x2="846.5999999999999" y2="207.4" stroke="#000" stroke-width="1.3" />
<line x1="842.8" y1="203.6" x2="842.8" y2="211.20000000000002" stroke="#000" stroke-width="1.3" />
<path d="M790.1,147.5 L797.9,147.5 L790.1,152.5 L797.9,152.5" stroke="#000" stroke-width="1.15" fill="none" stroke-linejoin="miter"/>
<path d="M863.3,147.5 L871.0999999999999,147.5 L863.3,152.5 L871.0999999999999,152.5" stroke="#000" stroke-width="1.15" fill="none" stroke-linejoin="miter"/>
<path d="M796.2,216.3 L787.5,216.3 L787.5,220.60000000000002" stroke="#000" stroke-width="1.15" fill="none" />
<path d="M872.9000000000001,216.3 L864.2,216.3 L864.2,220.60000000000002" stroke="#000" stroke-width="1.15" fill="none" />
<path d="M754.1,230.6 L745.4,230.6 L745.4,234.9" stroke="#000" stroke-width="1.15" fill="none" />
<path d="M745.2,243.5 L754.0,243.5 L751.5,241.1" stroke="#000" stroke-width="1.15" fill="none" />
<path d="M926.0,230.6 L917.3,230.6 L917.3,234.9" stroke="#000" stroke-width="1.15" fill="none" />
<path d="M917.1,243.5 L925.9,243.5 L923.4,241.1" stroke="#000" stroke-width="1.15" fill="none" />
<line x1="750.7" y1="224.4" x2="799.8" y2="185.2" stroke="#333" stroke-width="0.9" />
<line x1="914.6" y1="224.5" x2="867.3" y2="186.0" stroke="#333" stroke-width="0.9" />
<path d="M1082.5,1069 L1086.6,1066.5 L1090,1071 L1081.5,1150.5 L1073.5,1151.2 Z" stroke="#000" stroke-width="0.8" fill="#000" />
<rect x="1085.0" y="1075.0" width="1.2" height="1.2" fill="#ddd"/>
<rect x="1084.3" y="1080.8" width="1.2" height="1.2" fill="#ddd"/>
<rect x="1083.7" y="1086.7" width="1.2" height="1.2" fill="#ddd"/>
<rect x="1083.0" y="1092.5" width="1.2" height="1.2" fill="#ddd"/>
<rect x="1082.3" y="1098.3" width="1.2" height="1.2" fill="#ddd"/>
<rect x="1081.7" y="1104.2" width="1.2" height="1.2" fill="#ddd"/>
<rect x="1081.0" y="1110.0" width="1.2" height="1.2" fill="#ddd"/>
<rect x="1080.3" y="1115.8" width="1.2" height="1.2" fill="#ddd"/>
<rect x="1079.7" y="1121.7" width="1.2" height="1.2" fill="#ddd"/>
<rect x="1079.0" y="1127.5" width="1.2" height="1.2" fill="#ddd"/>
<rect x="1078.3" y="1133.3" width="1.2" height="1.2" fill="#ddd"/>
<rect x="1077.7" y="1139.2" width="1.2" height="1.2" fill="#ddd"/>
<path d="M1074,1146.5 L1081,1146 L1080.6,1151 L1073.6,1151.4 Z" fill="#fff" stroke="#000" stroke-width="0.8"/>
<text transform="translate(1094.56,1109.04) rotate(90) scale(0.95,1)" font-size="13.5" fill="#000" font-weight="normal" >x4</text>
<path d="M1115.7,1112 L1115.7,1073 L1118.5,1069 L1128,1069 L1130.8,1073 L1130.8,1112 Z" stroke="#000" stroke-width="0.01" fill="#000" />
<rect x="1117.4" y="1071.3" width="4.2" height="3.1" fill="#fff"/>
<rect x="1123.9" y="1071.3" width="5.3" height="3.1" fill="#fff"/>
<rect x="1117.4" y="1076.9" width="4.2" height="3.1" fill="#fff"/>
<rect x="1123.9" y="1076.9" width="5.3" height="3.1" fill="#fff"/>
<rect x="1117.4" y="1082.5" width="4.2" height="3.1" fill="#fff"/>
<rect x="1123.9" y="1082.5" width="5.3" height="3.1" fill="#fff"/>
<rect x="1117.4" y="1088.1" width="4.2" height="3.1" fill="#fff"/>
<rect x="1123.9" y="1088.1" width="5.3" height="3.1" fill="#fff"/>
<rect x="1117.4" y="1093.7" width="4.2" height="3.1" fill="#fff"/>
<rect x="1123.9" y="1093.7" width="5.3" height="3.1" fill="#fff"/>
<rect x="1117.4" y="1099.3" width="4.2" height="3.1" fill="#fff"/>
<rect x="1123.9" y="1099.3" width="5.3" height="3.1" fill="#fff"/>
<rect x="1117.4" y="1104.9" width="4.2" height="3.1" fill="#fff"/>
<rect x="1123.9" y="1104.9" width="5.3" height="3.1" fill="#fff"/>
<path d="M1127.5,1076.5 L1121,1106" stroke="#000" stroke-width="3.2" fill="none" />
<path d="M1110.3,1119.5 L1115.5,1108.5 L1131,1108.5 L1135.5,1119.5 Z" stroke="#000" stroke-width="0.01" fill="#000" />
<rect x="1117.4" y="1110.5" width="4.2" height="6.5" fill="#fff"/>
<rect x="1124" y="1110.5" width="5.2" height="6.5" fill="#fff"/>
<rect x="1115.2" y="1119" width="15.8" height="21.5" fill="#000"/>
<rect x="1117" y="1120.6" width="12.2" height="1.8" fill="#fff"/>
<rect x="1117.2" y="1123.5" width="1.2" height="4.5" fill="#bbb"/>
<rect x="1128" y="1123.5" width="1.2" height="4.5" fill="#bbb"/>
<rect x="1121.5" y="1126.5" width="3.5" height="1" fill="#ccc"/>
<rect x="1121.5" y="1129.5" width="3.5" height="1" fill="#ccc"/>
<rect x="1120.2" y="1134.8" width="6.8" height="5" fill="#fff"/>
<rect x="1113.6" y="1139.8" width="19.2" height="2.8" rx="0.8" fill="#000"/>
<path d="M989.8,1269.3 L1020,1269.5 Q1023.9,1269.8 1024.6,1272.5 L1027.7,1284.5 L1061.8,1274.9 L1062.4,1271.6 L1081.7,1271 L1091,1240.7 L1109.9,1241.1 Q1114.5,1243 1115.5,1249 L1103.6,1298.6 L1092,1299.3 L1084.3,1301.9 L1061.8,1301.2 L1023.2,1313 L1023.2,1314.9 L989.8,1314.9 L983.4,1295 Z" stroke="#fff" stroke-width="0.01" fill="#fff" stroke-linejoin="round" stroke-linecap="round"/>
<path d="M989.8,1269.3 L1020,1269.5 Q1023.9,1269.8 1024.6,1272.5 L1027.7,1284.5" stroke="#000" stroke-width="2.07" fill="none" stroke-linejoin="round" stroke-linecap="round"/>
<path d="M989.8,1269.3 L983.4,1295 L989.8,1314.9 L1023.2,1314.9" stroke="#000" stroke-width="2.07" fill="none" stroke-linejoin="round" stroke-linecap="round"/>
<path d="M983.4,1293.7 L1016.1,1293.7 M983.6,1296.9 L1015.5,1296.9" stroke="#000" stroke-width="1.61" fill="none" stroke-linejoin="round" stroke-linecap="round"/>
<path d="M992.7,1269.9 L986.6,1293.7 M986.3,1297.2 L991.4,1314.5" stroke="#000" stroke-width="1.26" fill="none" stroke-linejoin="round" stroke-linecap="round"/>
<path d="M1020,1269.9 L1014.9,1293.7 M1023.9,1271.6 L1018.5,1296.5 M1014.9,1296.9 L1020,1303.4 L1021.8,1314.9 M1022.8,1294 L1023.2,1314.9" stroke="#000" stroke-width="1.38" fill="none" stroke-linejoin="round" stroke-linecap="round"/>
<path d="M1027.7,1284.5 L1061.8,1274.9 L1062.4,1271.6 L1081.7,1271" stroke="#000" stroke-width="1.84" fill="none" stroke-linejoin="round" stroke-linecap="round"/>
<path d="M1028.6,1282.8 L1061.5,1273.4" stroke="#000" stroke-width="1.15" fill="none" stroke-linejoin="round" stroke-linecap="round"/>
<path d="M1023.9,1293.5 L1063.7,1289" stroke="#000" stroke-width="1.61" fill="none" stroke-linejoin="round" stroke-linecap="round"/>
<path d="M1023.9,1306.4 L1063.7,1296.7" stroke="#000" stroke-width="1.61" fill="none" stroke-linejoin="round" stroke-linecap="round"/>
<path d="M1024.5,1308.8 L1064.4,1299.2" stroke="#333" stroke-width="1.15" fill="none" stroke-linejoin="round" stroke-linecap="round"/>
<path d="M1023.2,1312.5 L1061.8,1301.2 L1084.3,1301.9 L1092,1299.3 L1103.6,1298.6" stroke="#000" stroke-width="1.72" fill="none" stroke-linejoin="round" stroke-linecap="round"/>
<path d="M1066.3,1275.5 L1064.4,1295.4 M1072.1,1274.9 L1070.1,1285.8 L1072,1288" stroke="#000" stroke-width="1.49" fill="none" stroke-linejoin="round" stroke-linecap="round"/>
<path d="M1063.7,1295.4 L1081.7,1285.8 L1092.6,1282.6" stroke="#000" stroke-width="1.38" fill="none" stroke-linejoin="round" stroke-linecap="round"/>
<path d="M1070.1,1285.8 L1081.7,1281.9 L1092.6,1280.6 Q1099,1281.5 1101,1287.7 L1103.6,1298" stroke="#000" stroke-width="1.49" fill="none" stroke-linejoin="round" stroke-linecap="round"/>
<path d="M1081.7,1280.5 L1093.3,1280.5" stroke="#000" stroke-width="1.49" fill="none" stroke-linejoin="round" stroke-linecap="round"/>
<path d="M1080.4,1286.4 L1084.9,1300.6 M1087.5,1284.5 L1091.4,1298.6" stroke="#000" stroke-width="1.38" fill="none" stroke-linejoin="round" stroke-linecap="round"/>
<path d="M1091,1240.7 L1081.2,1271 M1088.4,1241.6 L1079,1270.6" stroke="#000" stroke-width="1.38" fill="none" stroke-linejoin="round" stroke-linecap="round"/>
<path d="M1091,1240.7 L1109.9,1241.1 Q1114.5,1243 1115.5,1249" stroke="#000" stroke-width="1.72" fill="none" stroke-linejoin="round" stroke-linecap="round"/>
<path d="M1103,1242.4 L1093.6,1280.1" stroke="#000" stroke-width="1.38" fill="none" stroke-linejoin="round" stroke-linecap="round"/>
<path d="M1112,1245 L1101.3,1286.1 M1115.5,1249 L1103.3,1288.5 M1117.6,1252 L1105.5,1298" stroke="#000" stroke-width="1.38" fill="none" stroke-linejoin="round" stroke-linecap="round"/>
<path d="M1117.6,1239.5 L1115.5,1249" stroke="#000" stroke-width="1.38" fill="none" stroke-linejoin="round" stroke-linecap="round"/>
<path d="M1091,1240 L1092.7,1231.3 L1097.9,1218.9 L1100.4,1217.6 L1106.4,1212.4 L1115,1213.3 L1118.4,1225.3 L1117.6,1239.5" stroke="#000" stroke-width="1.72" fill="none" stroke-linejoin="round" stroke-linecap="round"/>
<path d="M1092.9,1231 L1095.3,1230.4 L1104.7,1229.6 L1115,1235.6 L1117.6,1239" stroke="#000" stroke-width="1.72" fill="none" stroke-linejoin="round" stroke-linecap="round"/>
<path d="M1097.9,1218.9 L1106,1217.2 L1114.5,1219.8 L1118.4,1225.3" stroke="#000" stroke-width="1.49" fill="none" stroke-linejoin="round" stroke-linecap="round"/>
<path d="M1110.7,1212.6 L1113.2,1204.5" stroke="#000" stroke-width="2.07" fill="none" stroke-linejoin="round" stroke-linecap="round"/>
<path d="M1112.8,1205.5 L1116.6,1193.8" stroke="#000" stroke-width="3.91" fill="none" stroke-linejoin="round" stroke-linecap="round"/>
</svg>
</body></html>
